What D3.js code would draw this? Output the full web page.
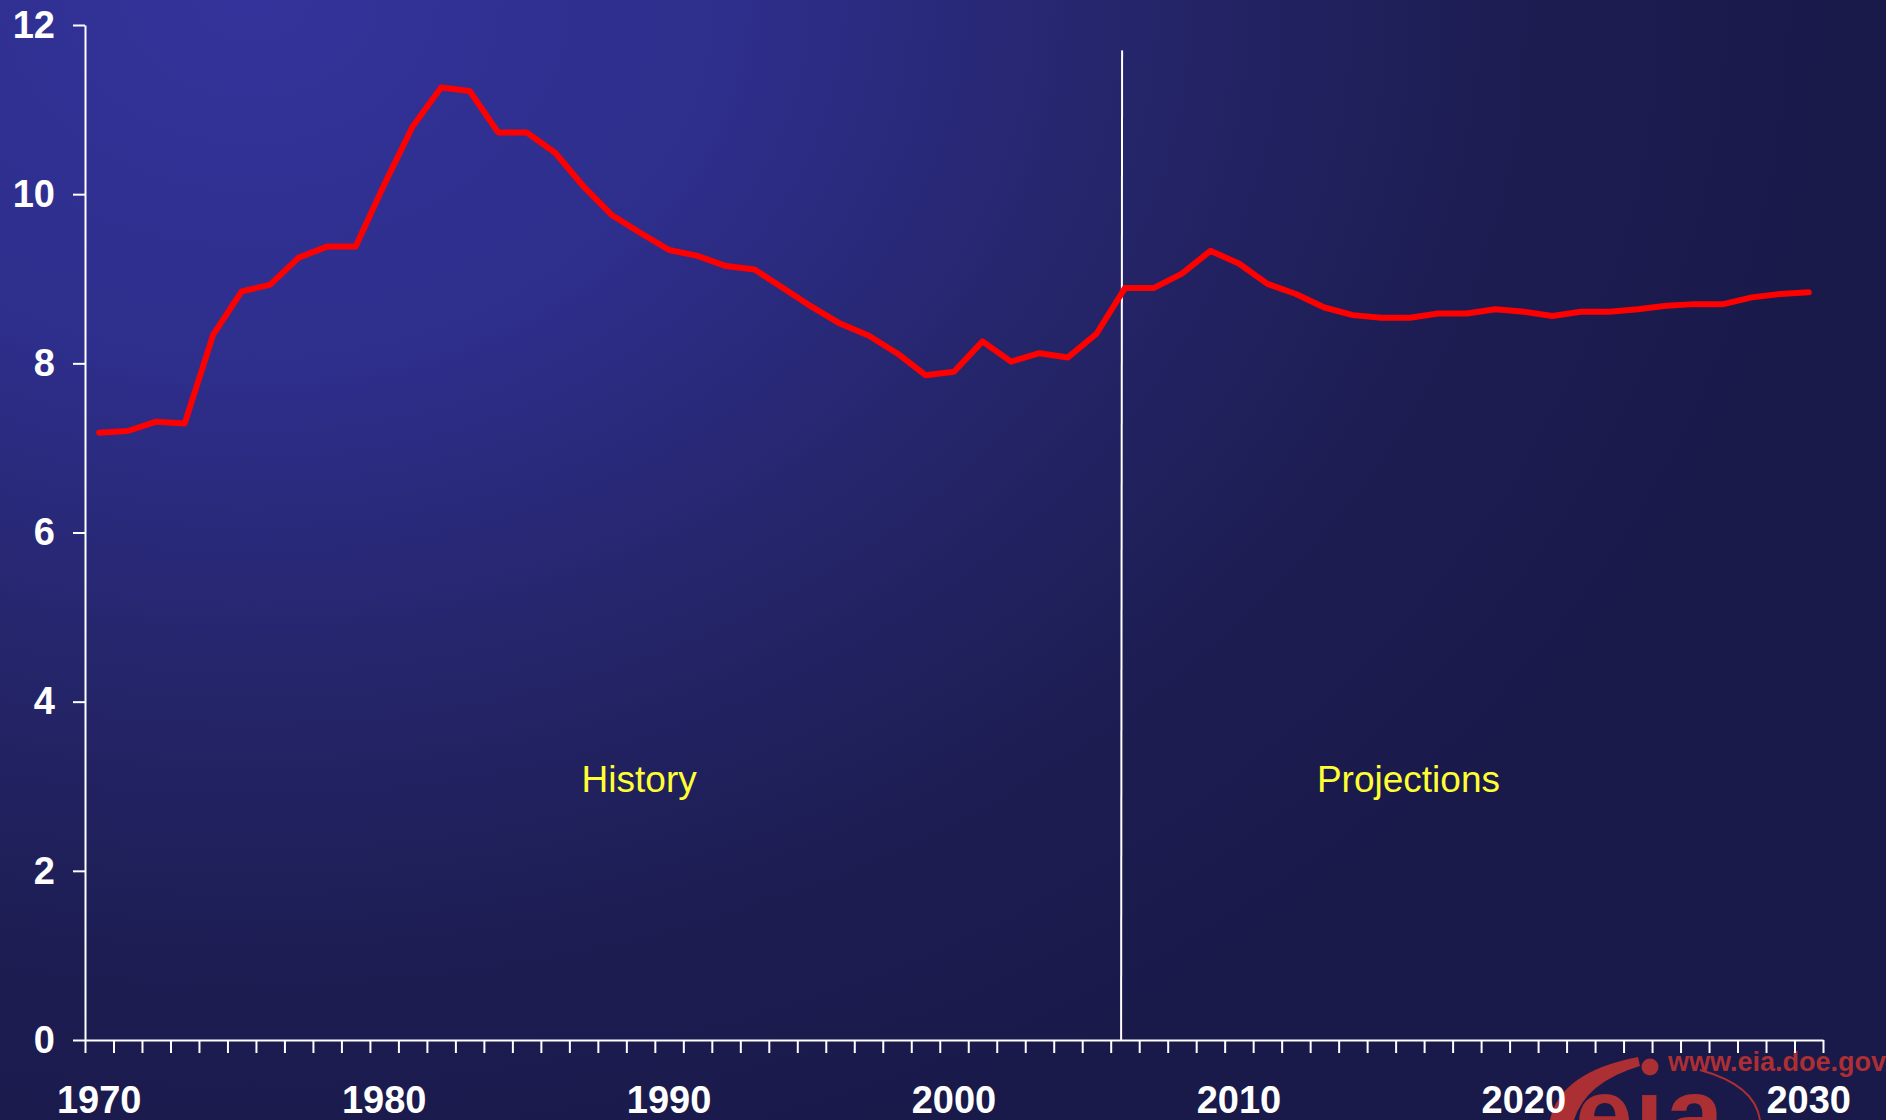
<!DOCTYPE html>
<html><head><meta charset="utf-8">
<script src="https://cdn.jsdelivr.net/npm/d3@7"></script>
<style>html,body{margin:0;padding:0;background:#1c1c4e;overflow:hidden}</style>
</head><body><svg id="c" width="1886" height="1120"></svg>
<script>
const years = [1970,1971,1972,1973,1974,1975,1976,1977,1978,1979,
  1980,1981,1982,1983,1984,1985,1986,1987,1988,1989,
  1990,1991,1992,1993,1994,1995,1996,1997,1998,1999,
  2000,2001,2002,2003,2004,2005,2006,2007,2008,2009,
  2010,2011,2012,2013,2014,2015,2016,2017,2018,2019,
  2020,2021,2022,2023,2024,2025,2026,2027,2028,2029,2030];
const values = [7.18,7.20,7.31,7.29,8.34,8.85,8.93,9.25,9.38,9.38,
  10.11,10.80,11.26,11.22,10.73,10.73,10.49,10.09,9.75,9.54,
  9.34,9.27,9.15,9.11,8.89,8.67,8.47,8.33,8.12,7.86,
  7.90,8.26,8.02,8.12,8.07,8.35,8.89,8.89,9.06,9.33,
  9.18,8.94,8.82,8.66,8.57,8.54,8.54,8.59,8.59,8.64,
  8.61,8.56,8.61,8.61,8.64,8.68,8.70,8.70,8.78,8.82,8.84];
const yTicks = [0,2,4,6,8,10,12];
const xTickLabels = [1970,1980,1990,2000,2010,2020,2030];
const regionLabels = ["History","Projections"];
const regionLabelYears = [1988.95, 2015.95];
const regionLabelValue = 3.09;
const dividerYear = 2006.4;
const dividerTop = 11.7;

const svg = d3.select("#c");
const W = 1886, H = 1120;
const L = 85, R = 1823, T = 25, B = 1040;

// background
const defs = svg.append("defs");
const rg = defs.append("radialGradient").attr("id","bg")
  .attr("gradientUnits","userSpaceOnUse").attr("cx",250).attr("cy",0).attr("r",1600)
  .attr("gradientTransform","scale(1,0.77)");
[[0,"#33339b"],[0.3,"#2e2e8c"],[0.55,"#25256b"],[0.78,"#1d1d53"],[1,"#19194a"]]
  .forEach(([o,c]) => rg.append("stop").attr("offset",o).attr("stop-color",c));
svg.append("rect").attr("width",W).attr("height",H).attr("fill","url(#bg)");

// logo (decoration)
const logo = svg.append("g").attr("fill","#ab2f33");
logo.append("text").attr("x",1668).attr("y",1071)
  .style("font","bold 27px 'Liberation Sans', Arial, sans-serif").text("www.eia.doe.gov");
logo.append("circle").attr("cx",1650).attr("cy",1067).attr("r",8.5);
logo.append("path").attr("d","M1550,1120 Q1560,1072 1638,1057 L1640,1066 Q1586,1082 1574,1120 Z");
logo.append("path").attr("d","M1700,1070 Q1755,1085 1760,1120").attr("fill","none")
  .attr("stroke","#ab2f33").attr("stroke-width",2);
logo.append("text").attr("x",1575).attr("y",1150)
  .style("font","bold 104px 'Liberation Sans', Arial, sans-serif")
  .attr("letter-spacing","2").text("e\u0131a");

// scales
const xb = d3.scaleLinear().domain([years[0], years[years.length-1]+1]).range([L,R]);
const xc = yr => xb(yr + 0.5);
const y = d3.scaleLinear().domain([0,12]).range([B,T]);

const font = "bold 38px 'Liberation Sans', Arial, sans-serif";

// y axis
const ya = svg.append("g").attr("transform",`translate(${L},0)`)
  .call(d3.axisLeft(y).tickValues(yTicks).tickSize(12).tickSizeOuter(0).tickPadding(18));
ya.select(".domain").attr("stroke","#fff").attr("stroke-width",2);
ya.selectAll(".tick line").attr("stroke","#fff").attr("stroke-width",2);
ya.selectAll(".tick text").attr("fill","#fff").style("font",font);

// x axis
const tickYears = years.concat([years[years.length-1]+1]);
const xa = svg.append("g").attr("transform",`translate(0,${B})`)
  .call(d3.axisBottom(xb).tickValues(tickYears).tickSize(13).tickSizeOuter(0).tickFormat(""));
xa.select(".domain").attr("stroke","#fff").attr("stroke-width",2);
xa.selectAll(".tick line").attr("stroke","#fff").attr("stroke-width",2);

svg.append("g").selectAll("text").data(xTickLabels).join("text")
  .attr("x", d => xc(d)).attr("y", 1113).attr("text-anchor","middle")
  .attr("fill","#fff").style("font",font).text(d => d);

// divider
svg.append("line").attr("x1",xb(dividerYear)).attr("x2",xb(dividerYear) - 1)
  .attr("y1",y(dividerTop)).attr("y2",y(0)).attr("stroke","#fff").attr("stroke-width",2);

// region labels
svg.append("g").selectAll("text").data(regionLabels).join("text")
  .attr("x",(d,i)=>xc(regionLabelYears[i])).attr("y",y(regionLabelValue))
  .attr("dy","0.35em").attr("text-anchor","middle").attr("fill","#ffff33")
  .style("font","37px 'Liberation Sans', Arial, sans-serif").text(d=>d);

// line
const data = years.map((yr,i)=>({yr, v: values[i]}));
svg.append("path").datum(data)
  .attr("d", d3.line().x(d=>xc(d.yr)).y(d=>y(d.v)))
  .attr("fill","none").attr("stroke","#ff0000").attr("stroke-width",6)
  .attr("stroke-linejoin","round").attr("stroke-linecap","round");
</script></body></html>
